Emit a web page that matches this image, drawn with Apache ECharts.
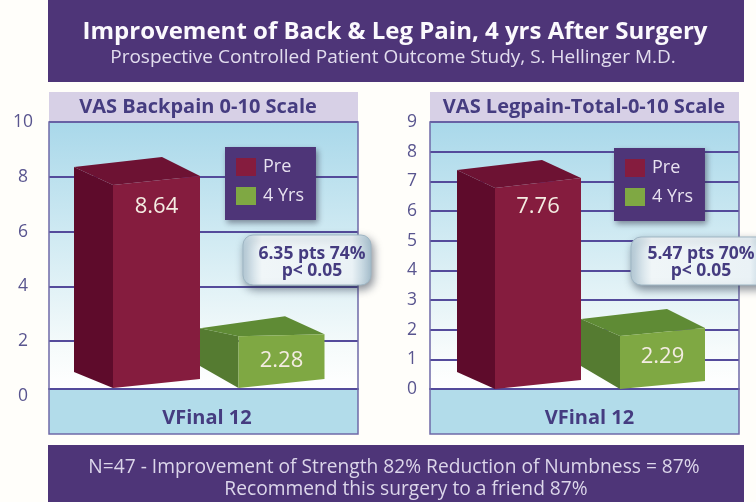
<!DOCTYPE html>
<html>
<head>
<meta charset="utf-8">
<title>Improvement of Back & Leg Pain</title>
<style>
html, body { margin: 0; padding: 0; background: #fffefa; }
#main { width: 756px; height: 502px; }
</style>
<script src="https://cdn.jsdelivr.net/npm/echarts@6/dist/echarts.min.js"></script>
</head>
<body>
<div id="main"></div>
<script>
// data
var seriesNames = ['Pre', '4 Yrs'];
var categories = ['VFinal 12'];
var backpainValues = [8.64, 2.28];
var legpainValues = [7.76, 2.29];
var backpainTicks = { max: 10, interval: 2 };
var legpainTicks = { max: 9, interval: 1 };

var mainTitle = 'Improvement of Back & Leg Pain, 4 yrs After Surgery';
var subTitle = 'Prospective Controlled Patient Outcome Study, S. Hellinger M.D.';
var backpainTitle = 'VAS Backpain 0-10 Scale';
var legpainTitle = 'VAS Legpain-Total-0-10 Scale';
var backpainNote = '6.35 pts 74%\np< 0.05';
var legpainNote = '5.47 pts 70%\np< 0.05';
var footerLine1 = 'N=47 - Improvement of Strength 82% Reduction of Numbness = 87%';
var footerLine2 = 'Recommend this surgery to a friend 87%';

var FONT = '"Open Sans", Lato, sans-serif';
var PURPLE = '#4e3578';
var LINE = '#544b9b';
var INK = '#453c80';

var RED = { front: '#851c3e', side: '#5e0b2b', top: '#6d1233' };
var GREEN = { front: '#7fa843', side: '#557b31', top: '#5f8b35' };

// the 3d skew of each block, px. b = base of the front face, h = its height
function skew3d(colors, x0, x1, sx, bx, hs, labelDy, d) {
    return { colors: colors, x0: x0, x1: x1, sx: sx, bx: bx, hs: hs, labelDy: labelDy, d: d };
}

function block(cfg, lift) {
    return function (params, api) {
        var val = api.value(1);
        var zero = api.coord([0, 0]);
        var full = api.coord([0, val]);
        var b = zero[1] - lift;
        var h = (zero[1] - full[1]) * cfg.hs;
        var cx = zero[0];
        var d = cfg.d;
        var fx0 = cx + cfg.x0, fx1 = cx + cfg.x1, sx = cx + cfg.sx, bx = cx + cfg.bx;
        var t = b - h;
        return {
            type: 'group',
            children: [
                { type: 'polygon', shape: { points: [[sx, b - d.sideBottom], [fx0, b], [fx0, t], [sx, t - d.sideTop]] }, style: { fill: cfg.colors.side } },
                { type: 'polygon', shape: { points: [[sx, t - d.sideTop], [fx0, t], [fx1, t - d.frontTop], [bx, t - d.back]] }, style: { fill: cfg.colors.top } },
                { type: 'polygon', shape: { points: [[fx0, b], [fx1, b - d.frontBottom], [fx1, t - d.frontTop], [fx0, t]] }, style: { fill: cfg.colors.front } },
                { type: 'text', style: { text: val.toFixed(2), x: (fx0 + fx1) / 2, y: t + cfg.labelDy, fill: '#f4ece2', font: '22px ' + FONT, align: 'center', verticalAlign: 'middle' } }
            ]
        };
    };
}

function blockSeries(name, value, cat, idx, cfg, lift) {
    return {
        type: 'custom',
        name: name,
        xAxisIndex: idx,
        yAxisIndex: idx,
        encode: { x: 0, y: 1 },
        itemStyle: { color: cfg.colors.front },
        renderItem: block(cfg, lift),
        data: [[cat, value]],
        z: 3
    };
}

function panelBack(x) {
    return [
        { type: 'rect', z: -5, shape: { x: x, y: 92, width: 309, height: 30 }, style: { fill: '#d7d0e6' } },
        {
            type: 'rect', z: -5, shape: { x: x, y: 122, width: 309, height: 267 },
            style: {
                fill: new echarts.graphic.LinearGradient(0, 0, 0, 1, [
                    { offset: 0, color: '#a9d8ea' },
                    { offset: 0.45, color: '#d2ebf3' },
                    { offset: 0.85, color: '#f6fbfb' },
                    { offset: 1, color: '#ffffff' }
                ])
            }
        },
        { type: 'rect', z: -5, shape: { x: x, y: 389, width: 309, height: 45 }, style: { fill: '#b2dcea' } },
        { type: 'rect', z: 1, shape: { x: x, y: 122, width: 309, height: 312 }, style: { fill: 'none', stroke: '#6f69a8', lineWidth: 1.5 } }
    ];
}

function note(x, y, w, h, textX, text) {
    return [
        {
            type: 'rect', z: 20, shape: { x: x, y: y, width: w, height: h, r: 10 },
            style: {
                fill: new echarts.graphic.LinearGradient(0, 0, 1, 0, [
                    { offset: 0, color: '#b9cfdb' },
                    { offset: 0.15, color: '#f0f6f8' },
                    { offset: 0.85, color: '#eaf2f6' },
                    { offset: 1, color: '#a9c2d0' }
                ]),
                stroke: '#9fb6c4', lineWidth: 1,
                shadowBlur: 8, shadowOffsetX: 2, shadowOffsetY: 4, shadowColor: 'rgba(40,50,70,0.55)'
            }
        },
        {
            type: 'text', z: 21, x: textX, y: 263,
            style: { text: text, fill: INK, font: 'bold 17.5px ' + FONT, align: 'center', verticalAlign: 'middle', lineHeight: 17 }
        }
    ];
}

function legendFor(left, top) {
    return {
        left: left, top: top,
        orient: 'vertical',
        data: seriesNames.map(function (n, i) {
            return { name: n, icon: 'rect', itemStyle: { color: i === 0 ? RED.front : GREEN.front } };
        }),
        selectedMode: false,
        backgroundColor: PURPLE,
        padding: [11, 12, 15, 11],
        itemWidth: 20,
        itemHeight: 18,
        itemGap: 11,
        textStyle: { color: '#e8e2f0', fontFamily: FONT, fontSize: 18, padding: [0, 0, 0, 2] },
        shadowBlur: 6, shadowOffsetX: 2, shadowOffsetY: 3, shadowColor: 'rgba(40,40,60,0.5)',
        z: 8
    };
}

function xAxisFor(idx, offset, shift) {
    return {
        type: 'category',
        gridIndex: idx,
        data: categories,
        offset: offset,
        axisLine: { show: true, lineStyle: { color: LINE, width: 2 } },
        axisTick: { show: false },
        axisLabel: { margin: 19, padding: [0, 0, 0, shift], color: INK, fontFamily: FONT, fontWeight: 'bold', fontSize: 20 }
    };
}

function yAxisFor(idx, ticks, margin) {
    return {
        type: 'value',
        gridIndex: idx,
        min: 0,
        max: ticks.max,
        interval: ticks.interval,
        axisLine: { show: false },
        axisTick: { show: false },
        axisLabel: { margin: margin, align: 'center', color: '#59558f', fontFamily: FONT, fontSize: 17.5 },
        splitLine: { show: true, showMinLine: false, lineStyle: { color: LINE, width: 2 } }
    };
}

var shapes = {
    left: [
        skew3d(RED, -90.5, -3.5, -129.5, -41.5, 0.858, 22, { sideTop: 18, sideBottom: 16, frontTop: 9, frontBottom: 9, back: 28 }),
        skew3d(GREEN, 35, 121, -3.5, 81.5, 0.83, 25, { sideTop: 8, sideBottom: 22, frontTop: 2, frontBottom: 9, back: 20 })
    ],
    right: [
        skew3d(RED, -89.5, -3.5, -127.5, -42.5, 0.873, 19, { sideTop: 18, sideBottom: 17, frontTop: 10, frontBottom: 9, back: 28 }),
        skew3d(GREEN, 35.5, 120.5, -3.5, 82.5, 0.78, 21, { sideTop: 17, sideBottom: 23, frontTop: 8, frontBottom: 8, back: 27 })
    ]
};

var elements = []
    .concat([
        { type: 'rect', z: -5, shape: { x: 48, y: 0, width: 696, height: 82 }, style: { fill: PURPLE } },
        { type: 'rect', z: -5, shape: { x: 48, y: 445, width: 696, height: 57 }, style: { fill: PURPLE } }
    ])
    .concat(panelBack(49))
    .concat(panelBack(430))
    .concat(note(243, 235, 128, 50, 312, backpainNote))
    .concat(note(631, 237, 140, 48, 701, legpainNote));

var option = {
    backgroundColor: '#fffefa',
    animation: false,
    title: [
        { text: mainTitle, left: 390, top: 15, textAlign: 'center', textStyle: { color: '#fbf9fd', fontFamily: FONT, fontWeight: 'bold', fontSize: 24 } },
        { text: subTitle, left: 388, top: 43, textAlign: 'center', textStyle: { color: '#e2ddee', fontFamily: FONT, fontWeight: 'normal', fontSize: 19 } },
        { text: backpainTitle, left: 193, top: 92, textAlign: 'center', textStyle: { color: INK, fontFamily: FONT, fontWeight: 'bold', fontSize: 20 } },
        { text: legpainTitle, left: 579, top: 92, textAlign: 'center', textStyle: { color: INK, fontFamily: FONT, fontWeight: 'bold', fontSize: 20 } },
        { text: footerLine1, left: 389, top: 453, textAlign: 'center', textStyle: { color: '#dcd6ea', fontFamily: FONT, fontWeight: 'normal', fontSize: 19.2 } },
        { text: footerLine2, left: 401, top: 475, textAlign: 'center', textStyle: { color: '#dcd6ea', fontFamily: FONT, fontWeight: 'normal', fontSize: 19.2 } }
    ],
    legend: [legendFor(225, 147), legendFor(614, 148)],
    grid: [
        { left: 49, width: 309, top: 122, height: 274 },
        { left: 430, width: 309, top: 122, height: 267 }
    ],
    xAxis: [xAxisFor(0, -7, 7), xAxisFor(1, 0, 10)],
    yAxis: [yAxisFor(0, backpainTicks, 26), yAxisFor(1, legpainTicks, 18)],
    graphic: { elements: elements },
    series: [
        blockSeries(seriesNames[0], backpainValues[0], categories[0], 0, shapes.left[0], 8),
        blockSeries(seriesNames[1], backpainValues[1], categories[0], 0, shapes.left[1], 8),
        blockSeries(seriesNames[0], legpainValues[0], categories[0], 1, shapes.right[0], 0),
        blockSeries(seriesNames[1], legpainValues[1], categories[0], 1, shapes.right[1], 0)
    ]
};

var chart = echarts.init(document.getElementById('main'), null, { renderer: 'canvas' });
chart.setOption(option);
</script>
</body>
</html>
